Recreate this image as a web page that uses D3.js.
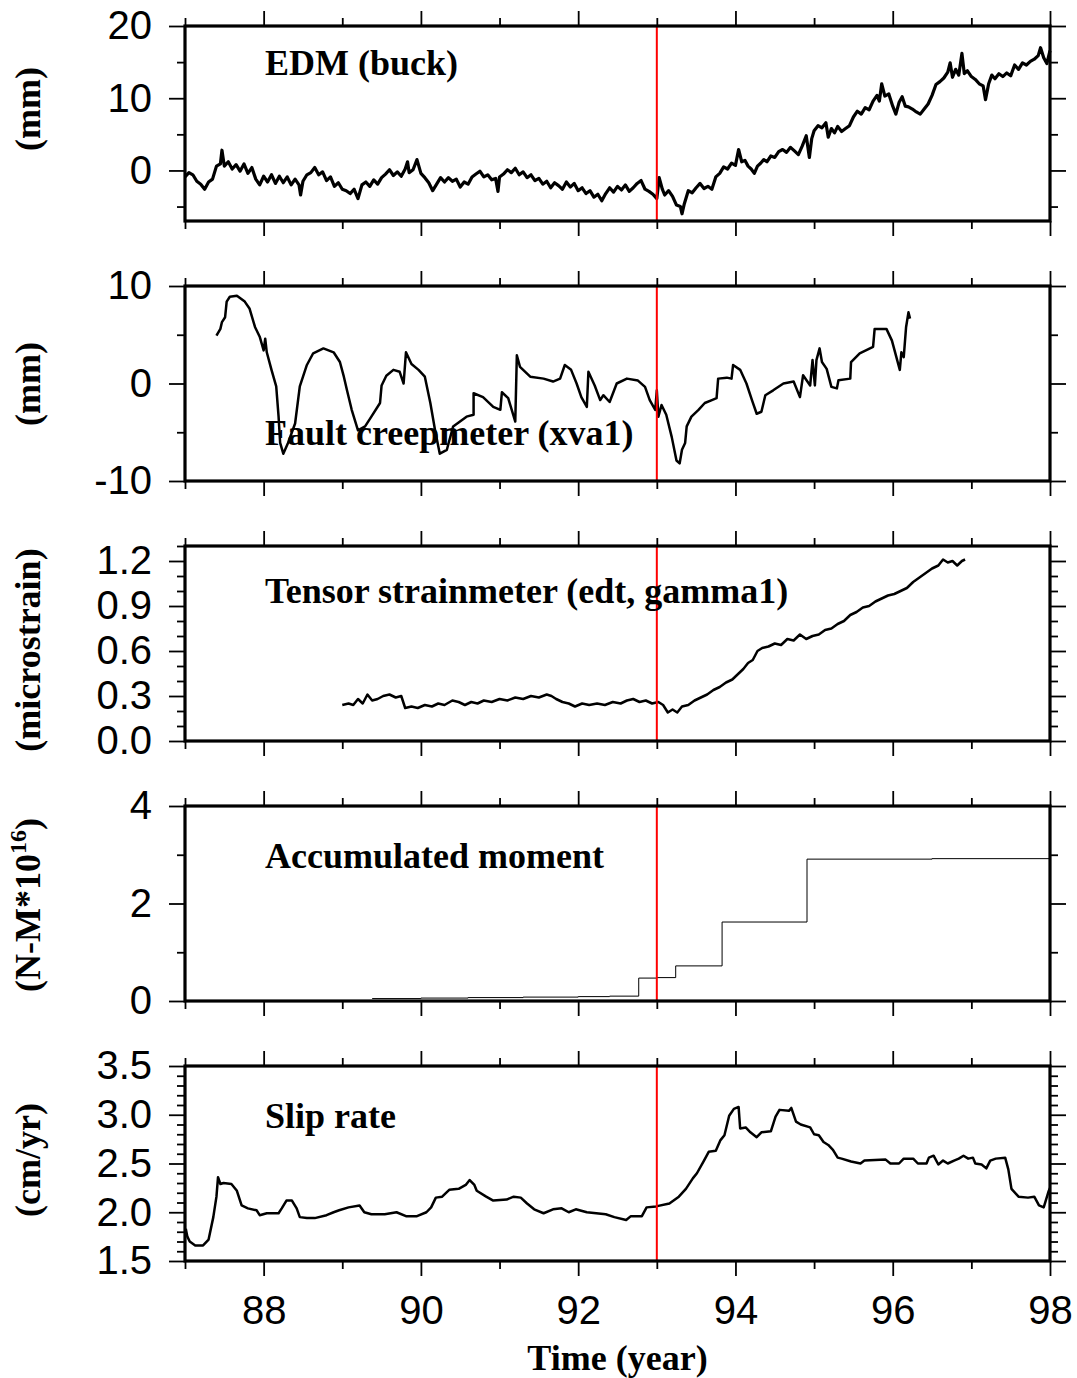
<!DOCTYPE html>
<html>
<head>
<meta charset="utf-8">
<script src="https://cdn.jsdelivr.net/npm/d3@7"></script>
<style>
  body { margin: 0; background: #fff; }
  .tick text { font-family: "Liberation Sans", Arial, Helvetica, sans-serif; font-size: 40px; fill: #000; }
  .title, .ylab, .xlab { font-family: "Liberation Serif", "Times New Roman", serif; font-weight: bold; fill: #000; }
</style>
</head>
<body>
<svg id="chart" width="1077" height="1378"></svg>
<script>
// ---- time axis (years, 19xx) ----
const xDomain = [87, 98];
const xMajorTicks = [88, 90, 92, 94, 96, 98];
const xMinorTicks = [87, 89, 91, 93, 95, 97];
const xTickLabels = ["88", "90", "92", "94", "96", "98"];
const eventYear = 93;

// ---- EDM line length change, buck (year, mm) ----
const edmSeries = [
  [87.00,-0.9],[87.05,-0.3],[87.10,-0.6],[87.15,-1.5],[87.20,-1.9],[87.25,-2.6],[87.30,-1.6],[87.35,-1.2],
  [87.40,0.6],[87.45,0.9],[87.47,2.8],[87.50,0.6],[87.55,1.2],[87.60,0.2],[87.65,0.8],[87.70,-0.1],
  [87.75,0.9],[87.80,-0.4],[87.85,0.4],[87.90,-1.2],[87.95,-2.0],[88.00,-0.8],[88.05,-1.6],[88.10,-0.6],
  [88.15,-1.8],[88.20,-0.8],[88.25,-1.7],[88.30,-0.9],[88.35,-2.0],[88.40,-1.2],[88.45,-2.0],[88.47,-3.4],
  [88.50,-1.5],[88.55,-0.6],[88.60,-0.3],[88.65,0.4],[88.70,-0.6],[88.75,-0.2],[88.80,-1.4],[88.85,-0.9],
  [88.90,-2.2],[88.95,-1.7],[89.00,-2.6],[89.05,-2.8],[89.10,-3.2],[89.15,-2.6],[89.20,-3.9],[89.25,-2.0],
  [89.30,-1.6],[89.35,-2.2],[89.40,-1.3],[89.45,-1.9],[89.50,-1.0],[89.55,-0.5],[89.60,0.1],[89.65,-0.7],
  [89.70,-0.2],[89.75,-0.8],[89.80,0.2],[89.83,1.2],[89.85,-0.3],[89.90,0.1],[89.95,1.5],[90.00,-0.4],
  [90.05,-1.0],[90.10,-1.7],[90.15,-2.8],[90.20,-1.9],[90.25,-1.0],[90.30,-1.6],[90.35,-1.0],[90.40,-1.5],
  [90.45,-1.2],[90.50,-2.3],[90.55,-1.6],[90.60,-1.9],[90.65,-0.9],[90.70,-0.5],[90.75,-0.1],[90.80,-0.9],
  [90.85,-0.6],[90.90,-1.3],[90.95,-1.1],[90.98,-2.9],[91.00,-0.9],[91.05,-0.5],[91.10,0.1],[91.15,-0.3],
  [91.20,0.3],[91.25,-0.6],[91.30,-0.2],[91.35,-1.0],[91.40,-0.6],[91.45,-1.4],[91.50,-1.1],[91.55,-1.9],
  [91.60,-1.5],[91.65,-2.4],[91.70,-1.7],[91.75,-2.1],[91.80,-2.6],[91.85,-1.6],[91.90,-2.3],[91.95,-1.8],
  [92.00,-2.8],[92.05,-2.4],[92.10,-3.2],[92.15,-2.8],[92.20,-3.7],[92.25,-3.3],[92.30,-4.2],[92.35,-3.2],
  [92.40,-2.4],[92.45,-3.0],[92.50,-2.2],[92.55,-2.7],[92.60,-2.0],[92.65,-2.9],[92.70,-2.4],[92.75,-1.8],
  [92.80,-1.4],[92.85,-2.6],[92.90,-2.9],[92.95,-3.3],[93.00,-3.9],[93.03,-1.0],[93.07,-2.6],[93.10,-3.4],
  [93.15,-2.8],[93.20,-3.6],[93.25,-4.8],[93.30,-5.0],[93.32,-6.0],[93.35,-4.6],[93.40,-2.8],[93.45,-3.1],
  [93.50,-2.4],[93.55,-1.8],[93.60,-2.5],[93.65,-2.2],[93.70,-2.6],[93.75,-0.9],[93.80,-0.4],[93.85,0.5],
  [93.90,0.2],[93.95,1.0],[94.00,0.7],[94.04,2.9],[94.08,1.2],[94.12,1.4],[94.16,0.6],[94.20,0.2],
  [94.24,-0.4],[94.28,0.6],[94.32,1.0],[94.36,1.5],[94.40,1.2],[94.45,2.0],[94.50,1.8],[94.55,2.6],
  [94.60,2.9],[94.65,2.5],[94.70,3.2],[94.75,2.7],[94.80,2.2],[94.85,3.4],[94.90,4.8],[94.94,1.8],
  [94.97,4.4],[95.00,5.5],[95.05,6.2],[95.10,5.9],[95.15,6.6],[95.18,4.6],[95.22,5.8],[95.26,5.2],
  [95.30,6.1],[95.35,5.4],[95.40,5.8],[95.45,6.2],[95.50,7.4],[95.55,8.2],[95.60,7.8],[95.65,8.7],
  [95.70,8.4],[95.75,9.6],[95.80,10.4],[95.83,9.6],[95.86,12.0],[95.90,10.3],[95.95,10.6],[96.00,8.9],
  [96.04,7.8],[96.08,9.4],[96.12,10.2],[96.16,8.9],[96.20,8.8],[96.25,8.5],[96.30,8.1],[96.35,7.8],
  [96.40,8.5],[96.45,9.2],[96.50,10.4],[96.55,11.9],[96.60,12.3],[96.65,12.8],[96.70,13.6],[96.73,14.9],
  [96.76,12.9],[96.80,14.0],[96.84,13.2],[96.88,16.2],[96.91,13.4],[96.95,13.8],[97.00,13.0],[97.05,12.6],
  [97.10,12.0],[97.15,11.7],[97.18,9.8],[97.22,12.0],[97.26,13.2],[97.30,12.7],[97.35,13.4],[97.40,13.0],
  [97.45,13.5],[97.50,13.1],[97.55,14.6],[97.60,14.0],[97.65,14.9],[97.70,14.6],[97.75,15.1],[97.80,15.4],
  [97.85,15.9],[97.88,17.0],[97.92,15.6],[97.96,14.8],[98.00,16.6]
];

// ---- fault creepmeter xva1 (year, mm) ----
const creepSeries = [
  [87.40,4.9],[87.45,5.6],[87.47,6.3],[87.51,6.8],[87.53,8.4],[87.57,8.9],[87.66,9.0],[87.76,8.4],
  [87.82,7.7],[87.89,5.8],[87.95,4.8],[88.00,3.4],[88.02,4.6],[88.04,3.2],[88.10,1.4],[88.16,-0.3],
  [88.19,-3.4],[88.21,-6.1],[88.25,-7.2],[88.31,-6.1],[88.40,-4.1],[88.46,-0.3],[88.55,1.9],[88.63,3.1],
  [88.76,3.6],[88.89,3.2],[88.97,2.2],[89.02,0.7],[89.06,-0.7],[89.12,-2.7],[89.20,-4.8],[89.29,-4.4],
  [89.37,-3.4],[89.48,-2.0],[89.50,-0.2],[89.56,0.8],[89.65,1.4],[89.73,1.2],[89.78,0.0],[89.81,3.2],
  [89.88,2.0],[89.97,1.4],[90.05,0.7],[90.12,-2.0],[90.18,-4.8],[90.24,-7.2],[90.33,-6.8],[90.41,-4.4],
  [90.58,-3.4],[90.67,-3.2],[90.67,-1.0],[90.79,-1.4],[90.92,-2.4],[91.01,-2.7],[91.03,-0.9],[91.11,-1.5],
  [91.20,-3.9],[91.22,2.9],[91.26,1.7],[91.39,0.7],[91.56,0.5],[91.68,0.2],[91.77,0.5],[91.83,1.9],
  [91.91,1.4],[91.98,0.0],[92.04,-1.4],[92.11,-2.4],[92.13,1.2],[92.21,-0.2],[92.28,-1.7],[92.32,-1.2],
  [92.40,-1.9],[92.49,0.0],[92.62,0.5],[92.76,0.3],[92.85,-0.35],[92.91,-1.7],[92.98,-2.7],[93.00,-0.7],
  [93.02,-3.4],[93.06,-2.2],[93.12,-3.2],[93.19,-5.5],[93.25,-7.9],[93.29,-8.2],[93.32,-6.8],[93.36,-6.1],
  [93.38,-4.4],[93.44,-3.4],[93.53,-2.7],[93.61,-2.0],[93.70,-1.7],[93.76,-1.5],[93.78,0.5],[93.89,0.6],
  [93.95,0.5],[93.97,1.9],[94.06,1.4],[94.14,0.0],[94.21,-1.7],[94.27,-3.1],[94.33,-2.9],[94.38,-1.2],
  [94.48,-0.7],[94.61,0.0],[94.74,0.2],[94.82,-1.4],[94.86,0.85],[94.95,-0.2],[94.98,2.4],[95.01,-0.2],
  [95.03,2.4],[95.07,3.6],[95.10,2.2],[95.16,1.5],[95.22,-0.35],[95.29,-0.5],[95.31,0.34],[95.46,0.5],
  [95.47,2.2],[95.58,3.1],[95.75,3.75],[95.77,5.6],[95.92,5.6],[95.99,4.4],[96.09,1.4],[96.11,3.2],
  [96.14,2.7],[96.17,5.8],[96.20,7.3],[96.22,6.65]
];

// ---- tensor strainmeter edt, gamma1 (year, microstrain) ----
const strainSeries = [
  [89.00,0.24],[89.08,0.25],[89.14,0.24],[89.20,0.28],[89.26,0.25],[89.32,0.31],[89.38,0.27],[89.45,0.28],
  [89.52,0.30],[89.60,0.31],[89.68,0.29],[89.75,0.30],[89.80,0.22],[89.88,0.23],[89.96,0.22],[90.05,0.24],
  [90.14,0.23],[90.22,0.25],[90.30,0.24],[90.40,0.27],[90.48,0.26],[90.56,0.24],[90.64,0.26],[90.72,0.25],
  [90.80,0.27],[90.90,0.26],[91.00,0.28],[91.10,0.27],[91.20,0.29],[91.30,0.28],[91.40,0.30],[91.50,0.29],
  [91.60,0.31],[91.66,0.30],[91.72,0.28],[91.80,0.26],[91.88,0.25],[91.96,0.23],[92.05,0.25],[92.14,0.24],
  [92.24,0.25],[92.34,0.24],[92.44,0.26],[92.54,0.25],[92.62,0.27],[92.70,0.28],[92.78,0.26],[92.86,0.27],
  [92.94,0.25],[93.02,0.26],[93.08,0.24],[93.14,0.19],[93.20,0.21],[93.26,0.19],[93.32,0.23],[93.40,0.24],
  [93.48,0.27],[93.56,0.29],[93.64,0.31],[93.72,0.34],[93.80,0.36],[93.88,0.39],[93.96,0.41],[94.04,0.45],
  [94.10,0.48],[94.16,0.52],[94.22,0.54],[94.28,0.60],[94.34,0.62],[94.42,0.63],[94.50,0.65],[94.58,0.64],
  [94.66,0.68],[94.74,0.67],[94.82,0.71],[94.90,0.68],[94.98,0.70],[95.06,0.71],[95.14,0.74],[95.22,0.75],
  [95.30,0.78],[95.38,0.80],[95.46,0.84],[95.54,0.86],[95.62,0.89],[95.70,0.90],[95.78,0.93],[95.86,0.95],
  [95.94,0.97],[96.02,0.98],[96.10,1.00],[96.18,1.02],[96.26,1.06],[96.34,1.09],[96.42,1.12],[96.50,1.15],
  [96.58,1.17],[96.64,1.21],[96.70,1.19],[96.76,1.20],[96.82,1.17],[96.88,1.20],[96.92,1.21]
];

// ---- accumulated seismic moment (year, N-m x 1e16), step changes ----
const momentSteps = [
  [89.38,0.05],[90.00,0.06],[90.60,0.07],[91.30,0.08],[92.00,0.09],[92.40,0.10],[92.77,0.47],
  [93.00,0.48],[93.24,0.72],[93.83,1.62],[94.91,2.91],[96.50,2.92],[98.00,2.93]
];

// ---- slip rate (year, cm/yr) ----
const slipSeries = [
  [87.01,1.83],[87.03,1.75],[87.06,1.70],[87.13,1.66],[87.23,1.66],[87.30,1.72],[87.36,1.95],[87.40,2.16],
  [87.42,2.36],[87.45,2.29],[87.49,2.30],[87.59,2.29],[87.66,2.22],[87.72,2.07],[87.80,2.04],[87.91,2.02],
  [87.95,1.97],[88.04,1.99],[88.19,1.99],[88.23,2.04],[88.29,2.12],[88.36,2.12],[88.42,2.04],[88.46,1.95],
  [88.55,1.94],[88.65,1.94],[88.80,1.97],[88.89,2.00],[88.96,2.02],[89.08,2.05],[89.22,2.07],[89.28,2.00],
  [89.37,1.98],[89.54,1.98],[89.69,2.00],[89.81,1.96],[89.95,1.96],[90.07,2.00],[90.13,2.05],[90.19,2.15],
  [90.27,2.16],[90.36,2.23],[90.48,2.24],[90.57,2.28],[90.62,2.33],[90.68,2.28],[90.71,2.22],[90.83,2.16],
  [90.92,2.12],[91.09,2.13],[91.18,2.16],[91.27,2.15],[91.35,2.09],[91.44,2.03],[91.56,1.99],[91.68,2.03],
  [91.79,2.04],[91.88,2.00],[91.97,2.03],[92.11,2.00],[92.35,1.98],[92.46,1.95],[92.61,1.92],[92.67,1.96],
  [92.81,1.96],[92.87,2.05],[92.99,2.06],[93.16,2.09],[93.28,2.16],[93.37,2.24],[93.46,2.35],[93.51,2.40],
  [93.60,2.53],[93.66,2.62],[93.75,2.63],[93.81,2.74],[93.86,2.79],[93.92,2.99],[93.98,3.06],[94.04,3.08],
  [94.06,2.86],[94.13,2.87],[94.19,2.82],[94.27,2.77],[94.33,2.82],[94.45,2.83],[94.51,2.98],[94.56,3.05],
  [94.68,3.04],[94.71,3.07],[94.77,2.93],[94.83,2.90],[94.95,2.87],[95.00,2.80],[95.06,2.79],[95.12,2.72],
  [95.18,2.69],[95.24,2.64],[95.30,2.56],[95.35,2.55],[95.47,2.52],[95.59,2.50],[95.64,2.53],[95.91,2.54],
  [95.97,2.50],[96.08,2.50],[96.14,2.55],[96.26,2.55],[96.32,2.50],[96.43,2.50],[96.46,2.56],[96.52,2.58],
  [96.58,2.49],[96.64,2.53],[96.70,2.50],[96.78,2.53],[96.84,2.55],[96.90,2.58],[96.96,2.55],[97.02,2.56],
  [97.05,2.50],[97.13,2.49],[97.19,2.45],[97.24,2.53],[97.31,2.55],[97.43,2.56],[97.47,2.44],[97.51,2.24],
  [97.60,2.16],[97.72,2.15],[97.80,2.16],[97.86,2.07],[97.92,2.05],[97.98,2.21],[98.00,2.25]
];

// ---- per-panel y axes ----
const edmTicks = [0, 10, 20],            edmMinor = [-5, 5, 15];
const creepTicks = [-10, 0, 10],         creepMinor = [-5, 5];
const strainTicks = [0, 0.3, 0.6, 0.9, 1.2], strainMinor = [0.1, 0.2, 0.4, 0.5, 0.7, 0.8, 1.0, 1.1, 1.3];
const momentTicks = [0, 2, 4],           momentMinor = [1, 3];
const slipTicks = [1.5, 2.0, 2.5, 3.0, 3.5];
const slipMinor = [1.6,1.7,1.8,1.9,2.1,2.2,2.3,2.4,2.6,2.7,2.8,2.9,3.1,3.2,3.3,3.4];

const plain = d => String(d);
const oneDecimal = d3.format(".1f");

const panels = [
  { title: "EDM (buck)", data: edmSeries, yDomain: [-7, 20], major: edmTicks, minor: edmMinor,
    fmt: plain, ylabel: ["(mm)"], ylabelY: 109, titleY: 75, width: 3.2 },
  { title: "Fault creepmeter (xva1)", data: creepSeries, yDomain: [-10, 10], major: creepTicks, minor: creepMinor,
    fmt: plain, ylabel: ["(mm)"], ylabelY: 384, titleY: 445, width: 2.5 },
  { title: "Tensor strainmeter (edt, gamma1)", data: strainSeries, yDomain: [0, 1.3], major: strainTicks, minor: strainMinor,
    fmt: oneDecimal, ylabel: ["(microstrain)"], ylabelY: 650, titleY: 603, width: 2.5 },
  { title: "Accumulated moment", data: momentSteps, yDomain: [0, 4], major: momentTicks, minor: momentMinor,
    fmt: plain, ylabel: ["(N-M*10", "16", ")"], ylabelY: 905, titleY: 868, width: 1, step: true },
  { title: "Slip rate", data: slipSeries, yDomain: [1.5, 3.5], major: slipTicks, minor: slipMinor,
    fmt: oneDecimal, ylabel: ["(cm/yr)"], ylabelY: 1160, titleY: 1128, width: 2.5 }
];

// ---- layout ----
const left = 185, right = 1050;
const panelTops = [26, 286, 546, 806, 1066];
const panelHeight = 195;
const majorLen = 16, minorLen = 8;

const svg = d3.select("#chart");
const x = d3.scaleLinear().domain(xDomain).range([left, right]);

function styleAxis(sel) {
  sel.select(".domain").remove();
  sel.selectAll(".tick line").attr("stroke", "#000").attr("stroke-width", 1.8);
}

panels.forEach((p, i) => {
  const top = panelTops[i], bottom = top + panelHeight;
  const y = d3.scaleLinear().domain(p.yDomain).range([bottom, top]);
  const g = svg.append("g");

  // series
  const line = d3.line().x(d => x(d[0])).y(d => y(d[1]))
    .curve(p.step ? d3.curveStepAfter : d3.curveLinear);
  g.append("path").datum(p.data)
    .attr("d", line)
    .attr("fill", "none")
    .attr("stroke", "#000")
    .attr("stroke-width", p.width)
    .attr("stroke-linejoin", "round");

  // event marker
  g.append("line")
    .attr("x1", x(eventYear)).attr("x2", x(eventYear))
    .attr("y1", top).attr("y2", bottom)
    .attr("stroke", "#ff0000").attr("stroke-width", 2);

  // panel title
  g.append("text").attr("class", "title")
    .attr("x", 265).attr("y", p.titleY)
    .attr("font-size", 36)
    .text(p.title);

  // y axes, left with labels
  g.append("g").attr("transform", `translate(${left},0)`)
    .call(d3.axisLeft(y).tickValues(p.major).tickSize(majorLen).tickPadding(17).tickFormat(p.fmt))
    .call(styleAxis)
    .call(s => s.selectAll("text").attr("font-family", null).attr("font-size", null));
  g.append("g").attr("transform", `translate(${left},0)`)
    .call(d3.axisLeft(y).tickValues(p.minor).tickSize(minorLen).tickFormat(""))
    .call(styleAxis);
  // y axes, right side ticks only
  g.append("g").attr("transform", `translate(${right},0)`)
    .call(d3.axisRight(y).tickValues(p.major).tickSize(majorLen).tickFormat(""))
    .call(styleAxis);
  g.append("g").attr("transform", `translate(${right},0)`)
    .call(d3.axisRight(y).tickValues(p.minor).tickSize(minorLen).tickFormat(""))
    .call(styleAxis);

  // x axes, top and bottom
  g.append("g").attr("transform", `translate(0,${top})`)
    .call(d3.axisTop(x).tickValues(xMajorTicks).tickSize(majorLen - 1).tickFormat(""))
    .call(styleAxis);
  g.append("g").attr("transform", `translate(0,${top})`)
    .call(d3.axisTop(x).tickValues(xMinorTicks).tickSize(minorLen).tickFormat(""))
    .call(styleAxis);
  const isLast = i === panels.length - 1;
  g.append("g").attr("transform", `translate(0,${bottom})`)
    .call(d3.axisBottom(x).tickValues(xMajorTicks).tickSize(majorLen - 1).tickPadding(20)
      .tickFormat(isLast ? ((d, k) => xTickLabels[k]) : ""))
    .call(styleAxis)
    .call(s => s.selectAll("text").attr("font-family", null).attr("font-size", null));
  g.append("g").attr("transform", `translate(0,${bottom})`)
    .call(d3.axisBottom(x).tickValues(xMinorTicks).tickSize(minorLen).tickFormat(""))
    .call(styleAxis);

  // frame
  g.append("rect")
    .attr("x", left).attr("y", top)
    .attr("width", right - left).attr("height", panelHeight)
    .attr("fill", "none").attr("stroke", "#000").attr("stroke-width", 3.2);

  // y label (rotated)
  const lab = g.append("text").attr("class", "ylab")
    .attr("transform", `translate(40,${p.ylabelY}) rotate(-90)`)
    .attr("text-anchor", "middle")
    .attr("font-size", 36);
  if (p.ylabel.length === 1) {
    lab.text(p.ylabel[0]);
  } else {
    lab.append("tspan").text(p.ylabel[0]);
    lab.append("tspan").attr("font-size", 24).attr("dy", -14).text(p.ylabel[1]);
    lab.append("tspan").attr("dy", 14).text(p.ylabel[2]);
  }
});

// x axis title
svg.append("text").attr("class", "xlab")
  .attr("x", (left + right) / 2).attr("y", 1370)
  .attr("text-anchor", "middle")
  .attr("font-size", 36)
  .text("Time (year)");
</script>
</body>
</html>
